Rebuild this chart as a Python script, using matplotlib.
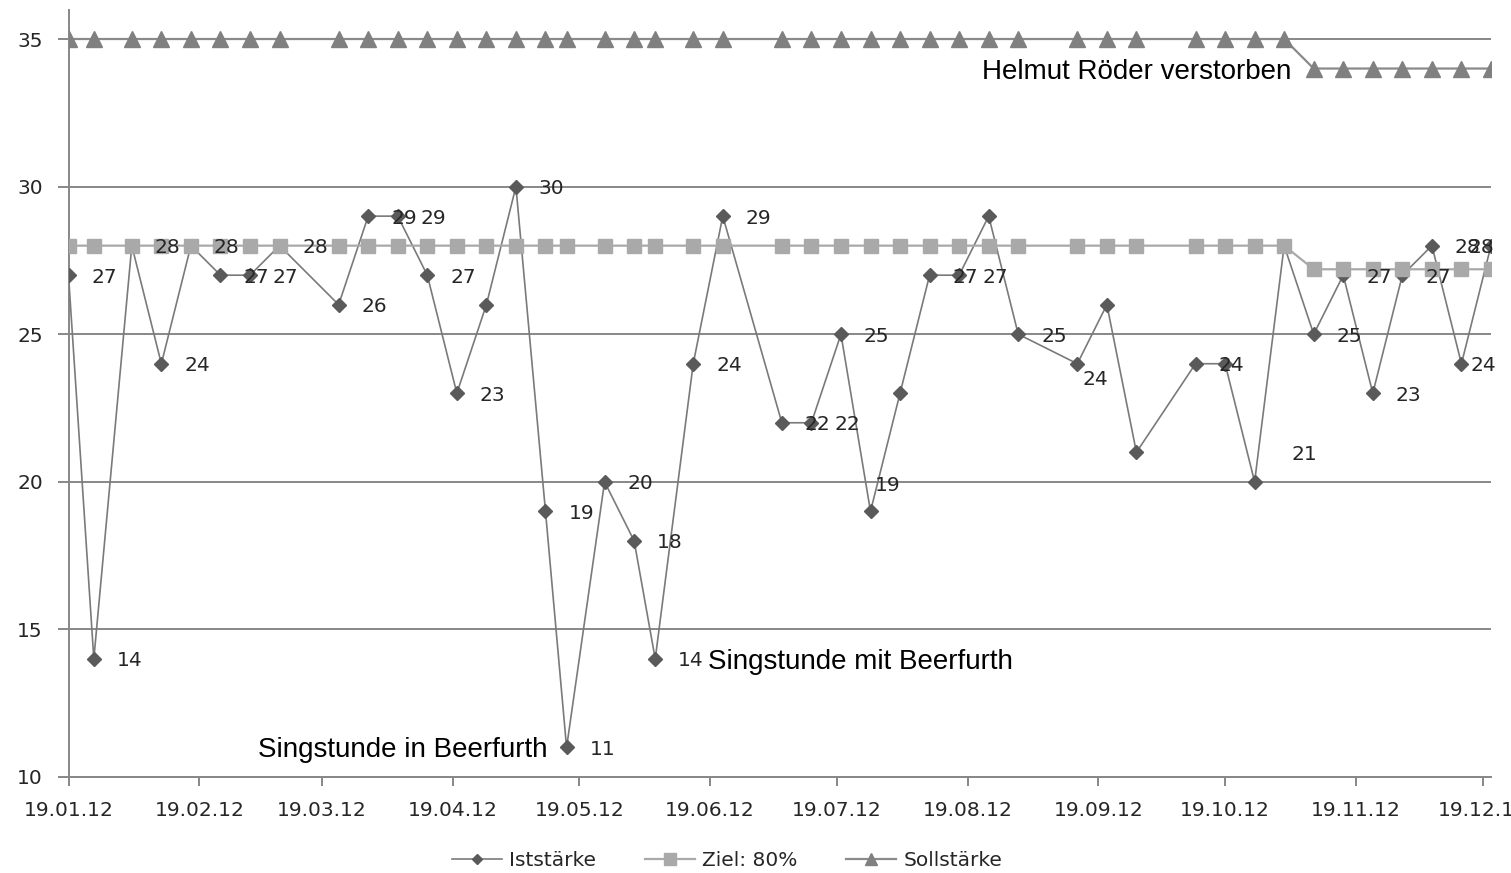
import matplotlib
matplotlib.use("Agg")
import matplotlib.pyplot as plt
import matplotlib.dates as mdates
import datetime as dt

# ---------------- data ----------------
dates = ["2012-01-19", "2012-01-25", "2012-02-03", "2012-02-10", "2012-02-17",
         "2012-02-24", "2012-03-02", "2012-03-09", "2012-03-23", "2012-03-30",
         "2012-04-06", "2012-04-13", "2012-04-20", "2012-04-27", "2012-05-04",
         "2012-05-11", "2012-05-16", "2012-05-25", "2012-06-01", "2012-06-06",
         "2012-06-15", "2012-06-22", "2012-07-06", "2012-07-13", "2012-07-20",
         "2012-07-27", "2012-08-03", "2012-08-10", "2012-08-17", "2012-08-24",
         "2012-08-31", "2012-09-14", "2012-09-21", "2012-09-28", "2012-10-12",
         "2012-10-19", "2012-10-26", "2012-11-02", "2012-11-09", "2012-11-16",
         "2012-11-23", "2012-11-30", "2012-12-07", "2012-12-14", "2012-12-21"]

iststaerke = [27, 14, 28, 24, 28, 27, 27, 28, 26, 29,
              29, 27, 23, 26, 30, 19, 11, 20, 18, 14,
              24, 29, 22, 22, 25, 19, 23, 27, 27, 29,
              25, 24, 26, 21, 24, 24, 20, 28, 25, 27,
              23, 27, 28, 24, 28]
ziel = [28] * 38 + [27.2] * 7
sollstaerke = [35] * 38 + [34] * 7

series_names = ["Iststärke", "Ziel: 80%", "Sollstärke"]
tick_dates = ["2012-01-19", "2012-02-19", "2012-03-19", "2012-04-19", "2012-05-19",
              "2012-06-19", "2012-07-19", "2012-08-19", "2012-09-19", "2012-10-19",
              "2012-11-19", "2012-12-19"]
y_ticks = [10, 15, 20, 25, 30, 35]
notes = {"tod": "Helmut Röder verstorben",
         "in": "Singstunde in Beerfurth",
         "mit": "Singstunde mit Beerfurth"}

# ---------------- label layout (styling, not data) ----------------
hidden_labels = {13, 26, 29, 32, 35, 36, 37}
label_offsets = {25: (3, 20), 31: (3.6, -10), 33: (112, 0), 43: (6.5, 0), 44: (-16.5, 0)}
default_offset = (16.5, 0)

# ---------------- figure ----------------
W, H = 1511, 873
fig = plt.figure(figsize=(W / 100, H / 100), dpi=100)
ax = fig.add_axes([68.5 / W, (H - 777) / H, (1491 - 68.5) / W, (777 - 9.5) / H])

x = [mdates.date2num(dt.datetime.strptime(d, "%Y-%m-%d")) for d in dates]
font = "DejaVu Sans"
fs = 14.5
txtc = "#262626"
grid_c = "#878787"

ax.set_ylim(10, 36)
ax.set_xlim(x[0], x[-1])
ax.set_yticks(y_ticks)
ax.yaxis.grid(True, color=grid_c, linewidth=1.4, zorder=0)
ax.set_axisbelow(True)

l1, = ax.plot(x, iststaerke, color="#7a7a7a", linewidth=1.2, marker="D", markersize=7,
              markerfacecolor="#5a5a5a", markeredgecolor="#5a5a5a", zorder=3, label=series_names[0])
l2, = ax.plot(x, ziel, color="#a9a9a9", linewidth=1.6, marker="s", markersize=10,
              markerfacecolor="#a9a9a9", markeredgecolor="#a9a9a9", zorder=4, label=series_names[1])
l3, = ax.plot(x, sollstaerke, color="#8a8a8a", linewidth=1.6, marker="^", markersize=11,
              markerfacecolor="#808080", markeredgecolor="#808080", zorder=5, label=series_names[2])

# data labels for Iststärke
for i, (xi, v) in enumerate(zip(x, iststaerke)):
    if i in hidden_labels:
        continue
    dx, dy = label_offsets.get(i, default_offset)
    ax.annotate(str(v), (xi, v), xytext=(dx, dy - 5.4), textcoords="offset points",
                ha="left", va="baseline", fontsize=fs, family=font, color=txtc,
                zorder=10, annotation_clip=False)

# annotations
ann_font = "Liberation Sans"
ann_fs = 20
ax.annotate(notes["tod"], (x[38], sollstaerke[38]), xytext=(-15.8, -7.2),
            textcoords="offset points", ha="right", va="baseline",
            fontsize=ann_fs, family=ann_font, color="black", zorder=10)
ax.annotate(notes["in"], (x[16], iststaerke[16]), xytext=(-13.7, -7.0),
            textcoords="offset points", ha="right", va="baseline",
            fontsize=ann_fs, family=ann_font, color="black", zorder=10)
ax.annotate(notes["mit"], (x[19], iststaerke[19]), xytext=(38, -7.2),
            textcoords="offset points", ha="left", va="baseline",
            fontsize=ann_fs, family=ann_font, color="black", zorder=10)

# axes styling
ax.set_xticks([mdates.date2num(dt.datetime.strptime(d, "%Y-%m-%d")) for d in tick_dates])
ax.xaxis.set_major_formatter(mdates.DateFormatter("%d.%m.%y"))
for s in ["top", "right"]:
    ax.spines[s].set_visible(False)
for s in ["left", "bottom"]:
    ax.spines[s].set_color(grid_c)
    ax.spines[s].set_linewidth(1.4)
ax.tick_params(axis="x", direction="out", length=6.5, width=1.4, color=grid_c,
               pad=11, labelsize=fs, labelcolor=txtc)
ax.tick_params(axis="y", direction="out", length=8, width=1.4, color=grid_c,
               pad=10.5, labelsize=fs, labelcolor=txtc)
for lab in ax.get_xticklabels() + ax.get_yticklabels():
    lab.set_family(font)

leg = fig.legend(handles=[l1, l2, l3], loc="center", bbox_to_anchor=(727 / W, 1 - 861 / H),
                 ncol=3, frameon=False, handlelength=2.5, handletextpad=0.35,
                 columnspacing=2.4, markerscale=0.8, prop={"family": font, "size": fs})
for t in leg.get_texts():
    t.set_color(txtc)

fig.savefig("out.png", dpi=100)
